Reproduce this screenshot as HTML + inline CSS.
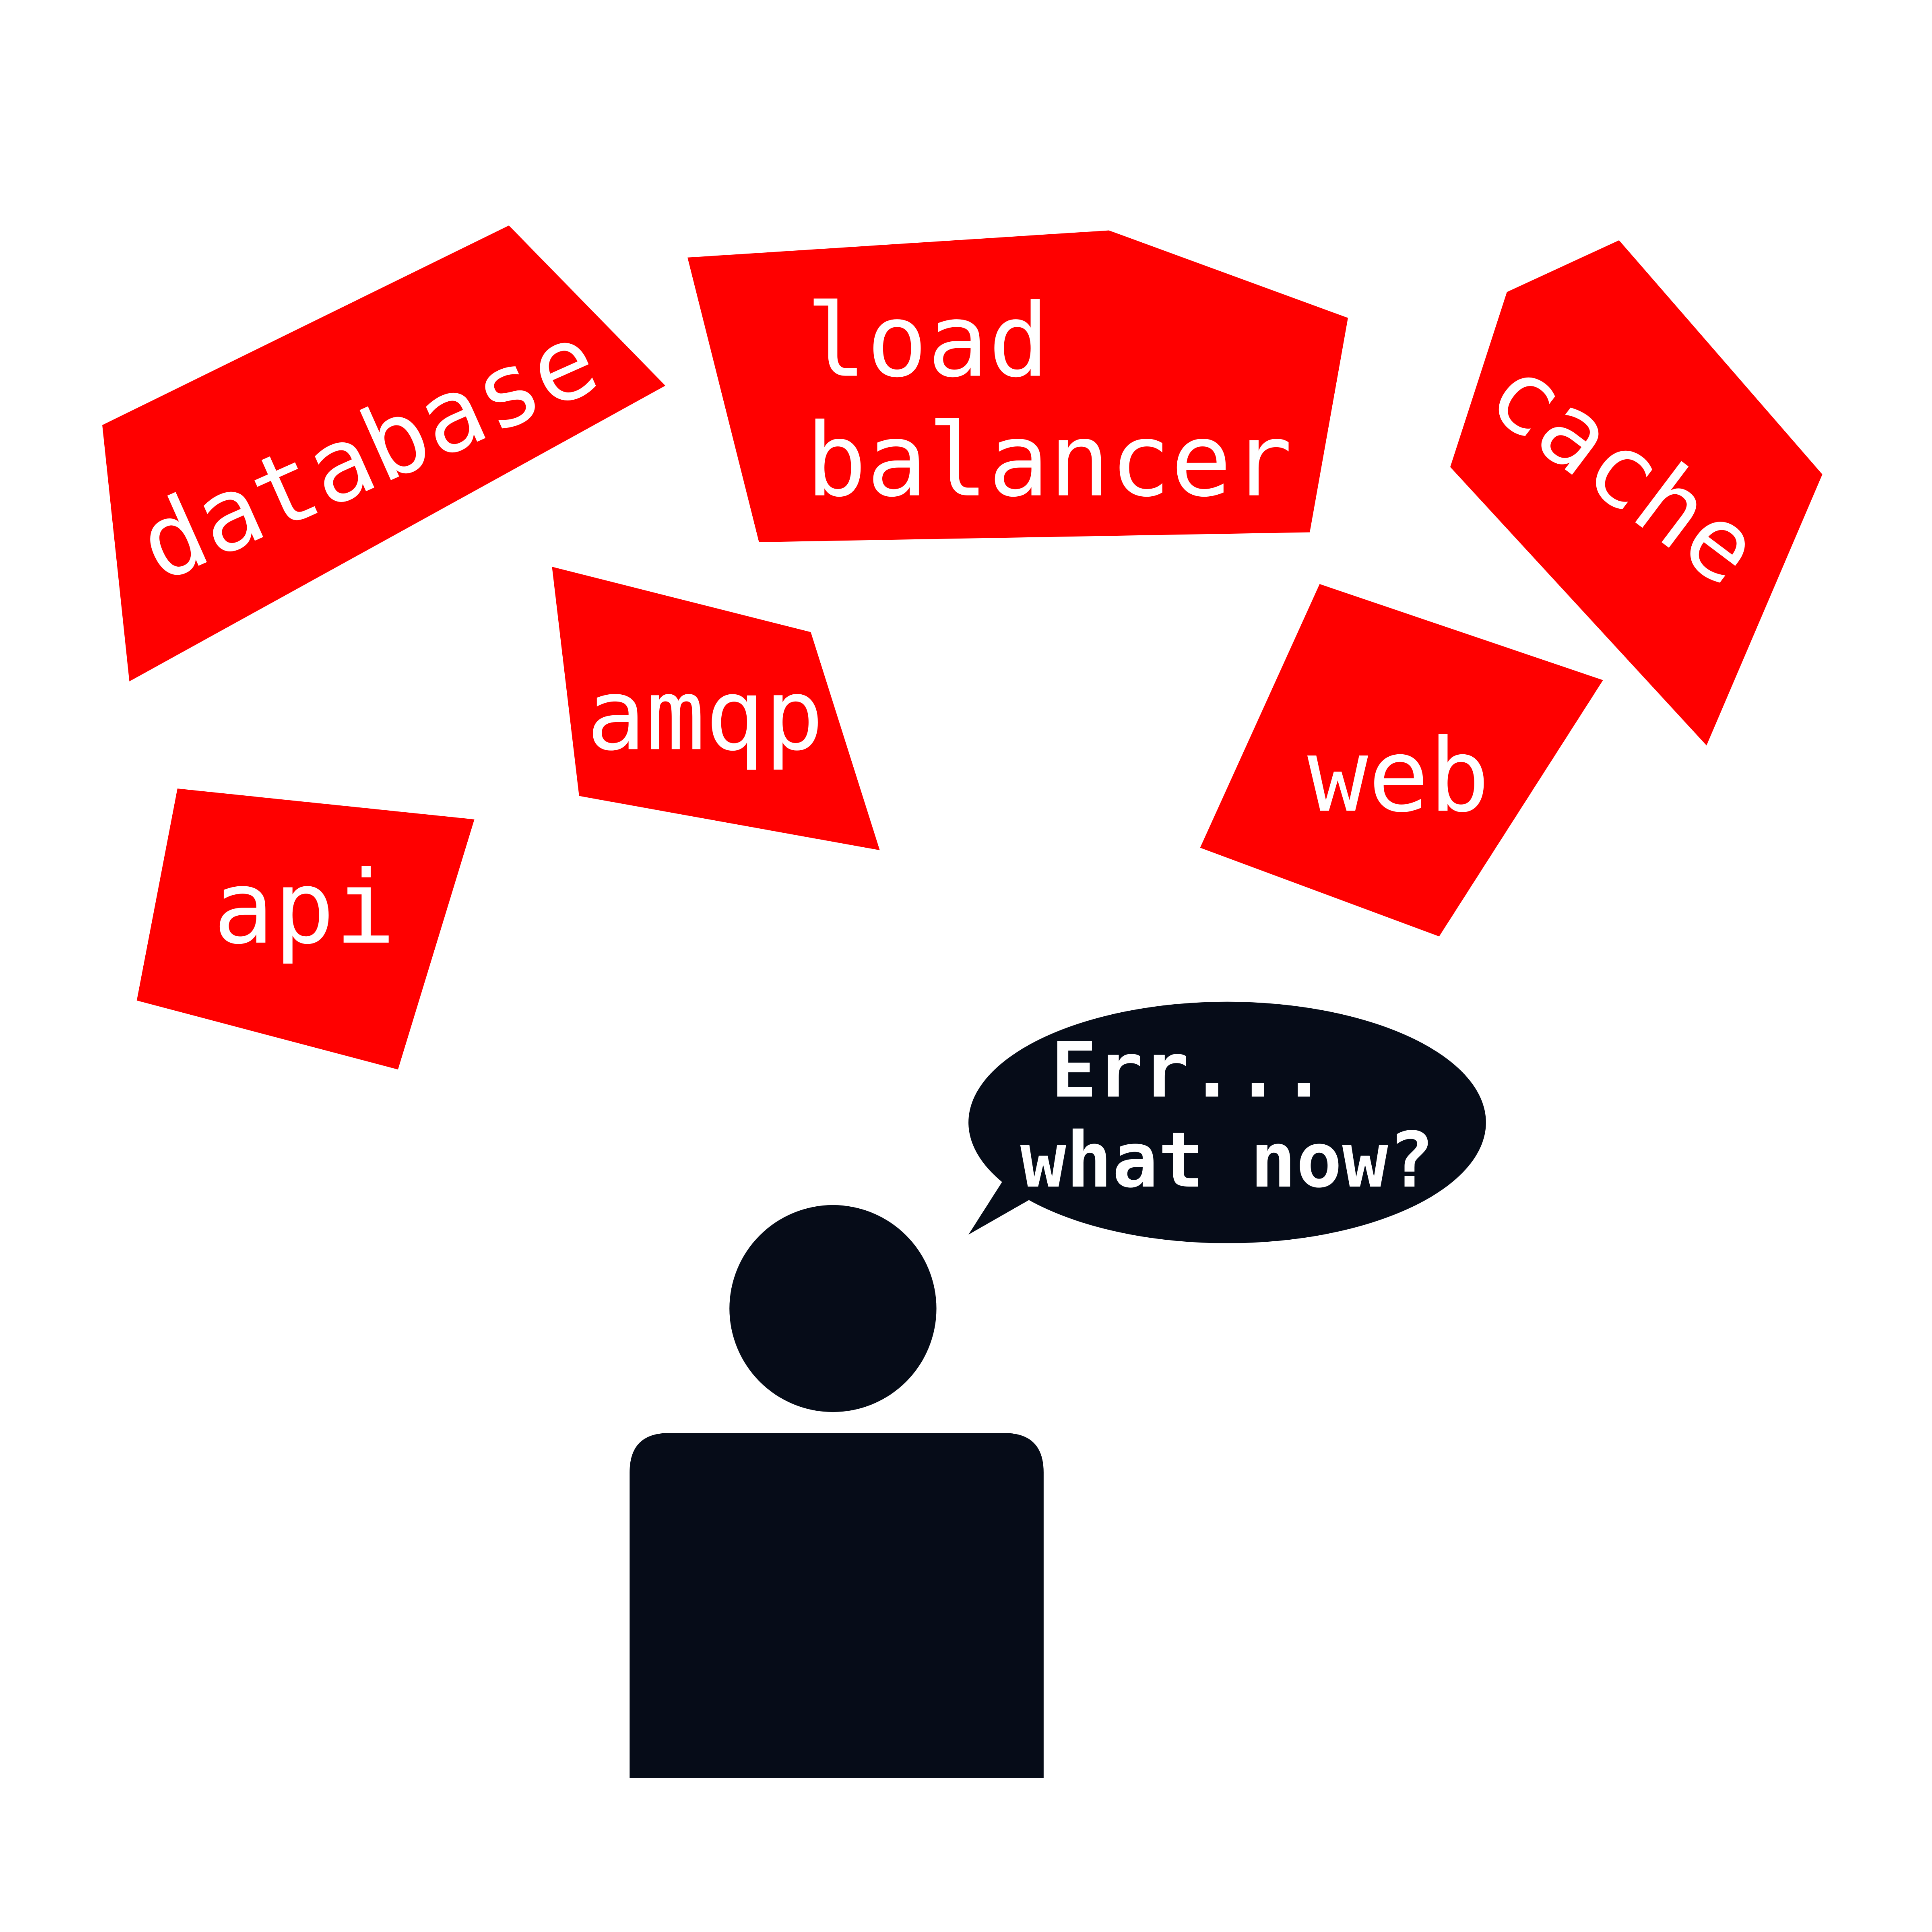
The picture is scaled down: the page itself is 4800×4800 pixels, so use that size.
<!DOCTYPE html>
<html><head><meta charset="utf-8"><style>
html,body{margin:0;padding:0;background:#fff;}
svg{display:block;}
text{font-family:"DejaVu Sans Mono","Liberation Mono",monospace;fill:#fff;}
</style></head><body>
<svg width="4800" height="4800" viewBox="0 0 1568 1568" xmlns="http://www.w3.org/2000/svg">
<rect width="1568" height="1568" fill="#fff"/>
<g fill="#ff0000">
<polygon points="83,345 413,183 540,313 105,553"/>
<polygon points="558,209 900,187 1094,258 1063,432 616,440"/>
<polygon points="1223,237 1314,195 1479,385 1385,605 1177,379"/>
<polygon points="448,460 658,513 714,690 470,646"/>
<polygon points="1071,474 1301,552 1168,760 974,688"/>
<polygon points="144,640 385,665 323,868 111,812"/>
</g>
<text x="300" y="395" font-size="82" text-anchor="middle" transform="rotate(-24 300 370)">database</text>
<text x="654" y="305" font-size="82">load</text>
<text x="654" y="402" font-size="82">balancer</text>
<text x="1318" y="410" font-size="82" text-anchor="middle" transform="rotate(37 1318 382)">cache</text>
<text x="476" y="608" font-size="80">amqp</text>
<text x="1061" y="658" font-size="82">web</text>
<text x="173" y="765" font-size="82">api</text>
<g fill="#060c18">
<ellipse cx="996" cy="911" rx="210" ry="98"/>
<polygon points="816,955 786,1002 842,970"/>
<circle cx="676" cy="1062" r="84"/>
<path d="M511,1443 L511,1195 Q511,1163 543,1163 L815,1163 Q847,1163 847,1195 L847,1443 Z"/>
</g>
<text x="853" y="890" font-size="62" font-weight="bold">Err...</text>
<text x="828" y="963" font-size="62" font-weight="bold">what now?</text>
</svg>
</body></html>
